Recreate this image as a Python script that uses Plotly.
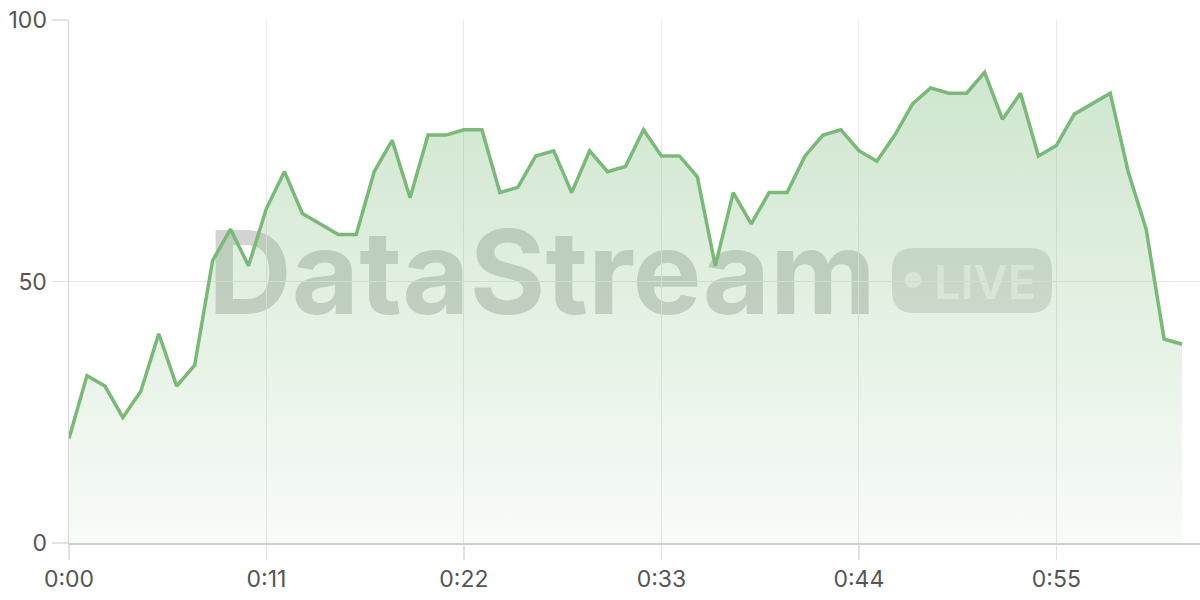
import plotly.graph_objects as go

# ---- data ----
seconds = list(range(63))
values = [20, 32, 30, 24, 29, 40, 30, 34, 54, 60,
          53, 64, 71, 63, 61, 59, 59, 71, 77, 66,
          78, 78, 79, 79, 67, 68, 74, 75, 67, 75,
          71, 72, 79, 74, 74, 70, 53, 67, 61, 67,
          67, 74, 78, 79, 75, 73, 78, 84, 87, 86,
          86, 90, 81, 86, 74, 76, 82, 84, 86, 71,
          60, 39, 38]
x_tickvals = [0, 11, 22, 33, 44, 55]
x_ticktext = ["0:00", "0:11", "0:22", "0:33", "0:44", "0:55"]
y_tickvals = [0, 50, 100]
watermark_text = "DataStream"
badge_text = "LIVE"

# ---- layout geometry (page pixels) ----
W, H = 1200, 600
L, R, T, B = 69, 1200, 20, 543   # plot area in page pixels

def px(xp):
    return (xp - L) / (R - L)

def py(yp):
    return (B - yp) / (B - T)

LINE = "#7aba78"
FONT = "Inter, Liberation Sans, Arial, sans-serif"

fig = go.Figure()
fig.add_trace(go.Scatter(
    x=seconds, y=values, mode="lines",
    line=dict(color=LINE, width=3.5),
    fill="tozeroy",
    fillgradient=dict(
        type="vertical", start=0, stop=100,
        colorscale=[[0, "rgba(122,186,120,0.05)"], [1, "rgba(122,186,120,0.40)"]],
    ),
    hoverinfo="skip", showlegend=False,
))

# rounded badge path in paper coords
def rounded_rect(x0, y0, x1, y1, r):
    rx = r / (R - L)
    ry = r / (B - T)
    X0, X1 = px(x0), px(x1)
    Yt, Yb = py(y0), py(y1)
    return (f"M {X0+rx},{Yt} L {X1-rx},{Yt} Q {X1},{Yt} {X1},{Yt-ry} "
            f"L {X1},{Yb+ry} Q {X1},{Yb} {X1-rx},{Yb} L {X0+rx},{Yb} "
            f"Q {X0},{Yb} {X0},{Yb+ry} L {X0},{Yt-ry} Q {X0},{Yt} {X0+rx},{Yt} Z")

shapes = [
    dict(type="rect", xref="paper", yref="paper",
         x0=px(205), x1=px(879), y0=py(311), y1=py(225),
         line=dict(width=0), fillcolor="rgba(0,0,0,0)", layer="between",
         label=dict(text=watermark_text, textposition="middle center",
                    font=dict(family=FONT, size=116, color="rgba(95,100,95,0.28)", weight=700))),
    dict(type="path", xref="paper", yref="paper",
         path=rounded_rect(892, 248, 1052, 313, 22),
         line=dict(width=0), fillcolor="rgba(95,100,95,0.20)", layer="between"),
    dict(type="circle", xref="paper", yref="paper",
         x0=px(905), x1=px(921), y0=py(288), y1=py(272),
         line=dict(width=0), fillcolor="rgba(255,255,255,0.6)", layer="between"),
    dict(type="rect", xref="paper", yref="paper",
         x0=px(935), x1=px(1035), y0=py(313), y1=py(248),
         line=dict(width=0), fillcolor="rgba(0,0,0,0)", layer="between",
         label=dict(text=badge_text, textposition="middle center",
                    font=dict(family=FONT, size=47, color="rgba(255,255,255,0.6)", weight=600))),
]

fig.update_layout(
    width=W, height=H,
    margin=dict(l=L, r=W - R, t=T, b=H - B, autoexpand=False),
    paper_bgcolor="white", plot_bgcolor="white",
    shapes=shapes,
    font=dict(family=FONT, size=23, color="#555555"),
    xaxis=dict(
        range=[0, 63], tickvals=x_tickvals, ticktext=x_ticktext,
        showgrid=True, gridcolor="#e9e9e9", gridwidth=1,
        ticks="outside", ticklen=15, tickcolor="#e2e2e2", tickwidth=1.5,
        ticklabeloverflow="allow",
        showline=True, linecolor="#cfcfcf", linewidth=1.5,
        zeroline=False, fixedrange=True, automargin=False,
    ),
    yaxis=dict(
        range=[0, 100], tickvals=y_tickvals,
        showgrid=True, gridcolor="#e9e9e9", gridwidth=1,
        ticks="outside", ticklen=16, tickcolor="#e2e2e2", tickwidth=1.5,
        ticklabeloverflow="allow",
        showline=True, linecolor="#d5d5d5", linewidth=1.5,
        zeroline=False, fixedrange=True, automargin=False,
    ),
)

fig.write_html("out.html",
               config={"displayModeBar": False, "staticPlot": True},
               post_script="document.body.style.margin='0';document.body.style.overflow='hidden';")
